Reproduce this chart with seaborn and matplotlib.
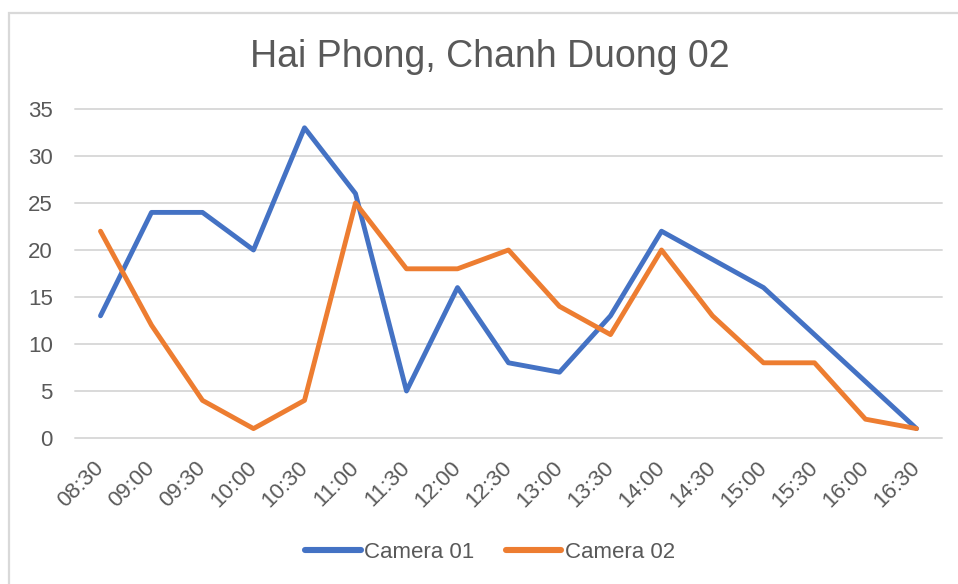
import matplotlib
matplotlib.use("Agg")
import matplotlib.pyplot as plt
import seaborn as sns
import pandas as pd
from matplotlib.patches import Rectangle

times = ["08:30", "09:00", "09:30", "10:00", "10:30", "11:00", "11:30", "12:00",
         "12:30", "13:00", "13:30", "14:00", "14:30", "15:00", "15:30", "16:00", "16:30"]
camera_01 = [13, 24, 24, 20, 33, 26, 5, 16, 8, 7, 13, 22, 19, 16, 11, 6, 1]
camera_02 = [22, 12, 4, 1, 4, 25, 18, 18, 20, 14, 11, 20, 13, 8, 8, 2, 1]
series_names = ["Camera 01", "Camera 02"]
y_ticks = [0, 5, 10, 15, 20, 25, 30, 35]
title = "Hai Phong, Chanh Duong 02"

df = pd.DataFrame({
    "time": times * 2,
    "pos": list(range(len(times))) * 2,
    "count": camera_01 + camera_02,
    "series": [series_names[0]] * len(times) + [series_names[1]] * len(times),
})

sns.set_theme(style="white")
plt.rcParams["font.family"] = ["Liberation Sans", "DejaVu Sans"]

W, H = 958, 584
fig = plt.figure(figsize=(W / 100, H / 100), dpi=100)
ax = fig.add_axes([75 / W, 1 - 438 / H, (942 - 75) / W, (438 - 109) / H])

palette = {"Camera 01": "#4472C4", "Camera 02": "#ED7D31"}
sns.lineplot(data=df, x="pos", y="count", hue="series", palette=palette,
             linewidth=3.5, ax=ax, legend=False, sort=False)
for ln in ax.lines:
    ln.set_clip_on(False)
    ln.set_solid_joinstyle("round")
    ln.set_solid_capstyle("round")
    ln.set_zorder(3)

ax.set_xlim(-0.5, len(times) - 0.5)
ax.set_ylim(0, 35)
ax.set_yticks(y_ticks)
ax.set_yticklabels([str(v) for v in y_ticks])
ax.set_xticks(range(len(times)))
ax.set_xticklabels(times, rotation=45, ha="right", va="center",
                   rotation_mode="anchor")
ax.tick_params(axis="y", length=0, pad=16, labelsize=16, labelcolor="#595959")
ax.tick_params(axis="x", length=0, pad=19, labelsize=16, labelcolor="#595959")
ax.set_xlabel("")
ax.set_ylabel("")

for v in y_ticks:
    ax.axhline(v, color="#D9D9D9", linewidth=1.4, zorder=1, clip_on=False)
for s in ax.spines.values():
    s.set_visible(False)

fig.text(490 / W, 1 - 57 / H, title, ha="center", va="center",
         fontsize=27, color="#595959")

handles = [plt.Line2D([], [], color=palette[n], linewidth=4.4,
                      solid_capstyle="round") for n in series_names]
fig.legend(handles, series_names, loc="center", bbox_to_anchor=(490 / W, 1 - 552 / H),
           ncol=2, frameon=False, fontsize=16, labelcolor="#595959",
           handlelength=2.5, handletextpad=0.15, columnspacing=1.4)

fig.add_artist(Rectangle((9 / W, -0.1), 1.2, 1 - 13 / H + 0.1,
                         transform=fig.transFigure, fill=False,
                         edgecolor="#D9D9D9", linewidth=1.6))

fig.savefig("out.png", dpi=100, facecolor="white")
